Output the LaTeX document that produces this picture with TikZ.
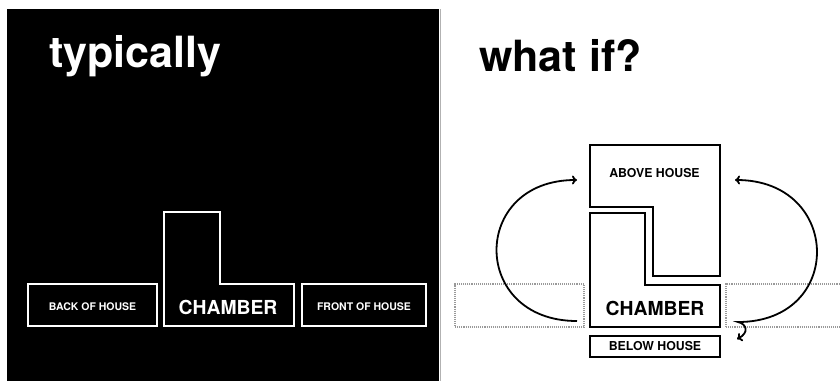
\documentclass[tikz,border=0pt]{standalone}
\usepackage{fontspec}
\setmainfont{TeX Gyre Heros}
\usetikzlibrary{arrows.meta}

\begin{document}
\begin{tikzpicture}[x=1pt, y=-1pt,
    title/.style={inner sep=0pt, anchor=base west, font=\bfseries\fontsize{43}{48}\selectfont},
    wbox/.style={draw=white, line width=2.6pt, minimum height=42pt, inner sep=0pt, text height=12pt, text=white, font=\bfseries\fontsize{10.5}{12}\selectfont},
    bbox/.style={draw=black, line width=2.8pt, minimum width=130pt, minimum height=21pt, inner sep=0pt, font=\bfseries\fontsize{12.3}{14}\selectfont},
    ghost/.style={draw=gray!80, densely dotted, line width=1.1pt, minimum height=43pt, inner sep=0pt},
    roomtext/.style={inner sep=0pt, font=\bfseries\fontsize{12.3}{14}\selectfont},
    bigtext/.style={inner sep=0pt, font=\bfseries\fontsize{19.3}{22}\selectfont},
    tip/.tip={To[length=5pt,width=9pt]},
    arrow/.style={-tip, line width=1.8pt}
]
\clip (0,0) rectangle (840,381);
\fill[white] (0,0) rectangle (840,381);
\fill[black] (7,9) rectangle (439,381);
\draw[gray!60, line width=1.5pt] (440.5,9) -- (440.5,381);

\node[title, text=white] (typically) at (49,67) {typically};
\node[title] (whatIf) at (479,71) {what if?};

\node[wbox, minimum width=129pt] (backHouse) at (92.5,305) {BACK OF HOUSE};
\node[wbox, minimum width=124pt] (frontHouse) at (364,305) {FRONT OF HOUSE};
\draw[white, line width=2.6pt] (164,212) -- (220,212) -- (220,284) -- (294,284) -- (294,326) -- (164,326) -- cycle;
\node[bigtext, text=white] (chamberA) at (228,307.3) {CHAMBER};

\node[ghost, minimum width=129pt] (backGhost) at (519.5,305.5) {};
\node[ghost, minimum width=134pt] (frontGhost) at (793,305.5) {};
\draw[line width=2.8pt] (590,145) -- (720,145) -- (720,276) -- (653,276) -- (653,207) -- (590,207) -- cycle;
\draw[line width=2.8pt] (590,213) -- (645,213) -- (645,285) -- (720,285) -- (720,327) -- (590,327) -- cycle;
\node[roomtext] (aboveHouse) at (654.5,173.3) {ABOVE HOUSE};
\node[bigtext] (chamberB) at (655,308.3) {CHAMBER};
\node[bbox] (belowHouse) at (655,346.5) {BELOW HOUSE};

\coordinate (leftFrom) at (577,321);
\coordinate (leftTo) at (577,180);
\coordinate (rightTo) at (735,180);
\coordinate (rightTurn) at (738,322);
\coordinate (rightDown) at (737,339);
\draw[arrow] (leftFrom) .. controls +(-107,0) and +(-107,0) .. (leftTo);
\draw[arrow, tip-tip] (rightTo) .. controls +(107,0) and +(107,0) .. (rightTurn) .. controls (747,324) and (749,333) .. (rightDown);
\end{tikzpicture}
\end{document}
